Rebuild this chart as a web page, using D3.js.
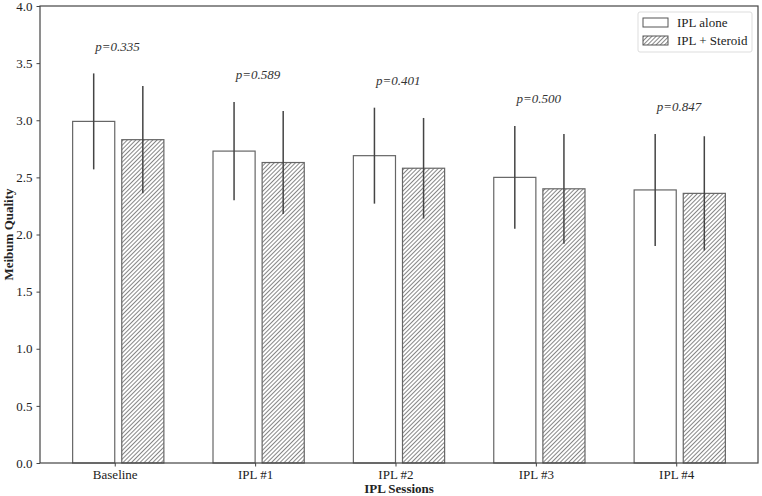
<!DOCTYPE html>
<html>
<head>
<meta charset="utf-8">
<script src="https://cdn.jsdelivr.net/npm/d3@7"></script>
<style>
  body { margin: 0; background: #fff; }
  svg text { font-family: "Liberation Serif", "DejaVu Serif", serif; fill: #222; }
</style>
</head>
<body>
<div id="chart"></div>
<script>
// data
var sessions = ["Baseline", "IPL #1", "IPL #2", "IPL #3", "IPL #4"];
var aloneMean = [2.99, 2.73, 2.69, 2.50, 2.39];
var aloneSd = [0.42, 0.43, 0.42, 0.45, 0.49];
var steroidMean = [2.83, 2.63, 2.58, 2.40, 2.36];
var steroidSd = [0.47, 0.45, 0.44, 0.48, 0.50];
var pValues = ["p=0.335", "p=0.589", "p=0.401", "p=0.500", "p=0.847"];
var yTicks = [0, 0.5, 1, 1.5, 2, 2.5, 3, 3.5, 4];

var W = 762, H = 496;
var margin = { top: 6, right: 4, bottom: 33, left: 40 };
var width = W - margin.left - margin.right;
var height = H - margin.top - margin.bottom;
var serif = "'Liberation Serif', 'DejaVu Serif', serif";

var svg = d3.select("#chart").append("svg")
    .attr("width", W)
    .attr("height", H)
    .attr("font-family", serif);

// hatch pattern
var defs = svg.append("defs");
defs.append("pattern")
    .attr("id", "hatch")
    .attr("patternUnits", "userSpaceOnUse")
    .attr("width", 3)
    .attr("height", 3)
    .attr("patternTransform", "rotate(45)")
    .append("line")
    .attr("x1", 0).attr("y1", 0)
    .attr("x2", 0).attr("y2", 3)
    .attr("stroke", "#444")
    .attr("stroke-width", 1.3);

var g = svg.append("g")
    .attr("transform", "translate(" + margin.left + "," + margin.top + ")");

// x in "bar units": category i at i, bars at [i-0.3,i] and [i+0.05,i+0.35]
var x = d3.scaleLinear()
    .domain([-0.5325, 4.5825])
    .range([0, width]);
var y = d3.scaleLinear()
    .domain([0, 4])
    .range([height, 0]);

var groups = [
    { name: "IPL alone", mean: aloneMean, sd: aloneSd, off: -0.3, fill: "#fff" },
    { name: "IPL + Steroid", mean: steroidMean, sd: steroidSd, off: 0.05, fill: "url(#hatch)" }
];
var barW = 0.3;

groups.forEach(function (grp) {
    g.selectAll(null)
        .data(grp.mean)
        .enter().append("rect")
        .attr("x", function (d, i) { return x(i + grp.off); })
        .attr("width", x(barW) - x(0))
        .attr("y", function (d) { return y(d); })
        .attr("height", function (d) { return y(0) - y(d); })
        .attr("fill", grp.fill)
        .attr("stroke", "#666")
        .attr("stroke-width", 1.2);
});

groups.forEach(function (grp) {
    g.selectAll(null)
        .data(grp.mean)
        .enter().append("line")
        .attr("x1", function (d, i) { return x(i + grp.off + barW / 2); })
        .attr("x2", function (d, i) { return x(i + grp.off + barW / 2); })
        .attr("y1", function (d, i) { return y(d - grp.sd[i]); })
        .attr("y2", function (d, i) { return y(d + grp.sd[i]); })
        .attr("stroke", "#444")
        .attr("stroke-width", 1.5);
});

// p-value labels above each pair
g.selectAll(null)
    .data(pValues)
    .enter().append("text")
    .attr("x", function (d, i) { return x(i + 0.02); })
    .attr("y", function (d, i) {
        var top = Math.max(aloneMean[i] + aloneSd[i], steroidMean[i] + steroidSd[i]);
        return y(top + 0.2);
    })
    .attr("text-anchor", "middle")
    .style("font-style", "italic")
    .style("font-size", "13px")
    .style("fill", "#333")
    .text(function (d) { return d; });

// axes
var xAxis = d3.axisBottom(x)
    .tickValues(d3.range(sessions.length))
    .tickFormat(function (d) { return sessions[d]; })
    .tickSizeInner(3.5)
    .tickSizeOuter(0)
    .tickPadding(3);
var yAxis = d3.axisLeft(y)
    .tickValues(yTicks)
    .tickFormat(d3.format(".1f"))
    .tickSizeInner(3.5)
    .tickSizeOuter(0)
    .tickPadding(4);

var gX = g.append("g")
    .attr("transform", "translate(0," + height + ")")
    .call(xAxis);
var gY = g.append("g").call(yAxis);

[gX, gY].forEach(function (ax) {
    ax.attr("font-family", serif).attr("font-size", 13);
    ax.select(".domain").remove();
    ax.selectAll("line").attr("stroke", "#444");
    ax.selectAll("text")
        .style("font-size", "13px")
        .style("font-family", serif)
        .style("fill", "#222");
});

// frame
g.append("rect")
    .attr("width", width)
    .attr("height", height)
    .attr("fill", "none")
    .attr("stroke", "#444")
    .attr("stroke-width", 1.2);

// axis titles
svg.append("text")
    .attr("x", margin.left + width / 2)
    .attr("y", 493)
    .attr("text-anchor", "middle")
    .style("font-weight", "bold")
    .style("font-size", "13px")
    .text("IPL Sessions");

svg.append("text")
    .attr("transform", "translate(13," + (margin.top + height / 2) + ") rotate(-90)")
    .attr("text-anchor", "middle")
    .style("font-weight", "bold")
    .style("font-size", "13px")
    .text("Meibum Quality");

// legend
var legend = svg.append("g")
    .attr("transform", "translate(638,12)");
legend.append("rect")
    .attr("width", 114)
    .attr("height", 40)
    .attr("rx", 2)
    .attr("fill", "#fff")
    .attr("stroke", "#ddd");
groups.forEach(function (grp, i) {
    var row = legend.append("g")
        .attr("transform", "translate(5," + (6 + i * 18) + ")");
    row.append("rect")
        .attr("width", 25)
        .attr("height", 9)
        .attr("fill", grp.fill)
        .attr("stroke", "#555")
        .attr("stroke-width", 1);
    row.append("text")
        .attr("x", 34)
        .attr("y", 9)
        .style("font-size", "13px")
        .text(grp.name);
});
</script>
</body>
</html>
